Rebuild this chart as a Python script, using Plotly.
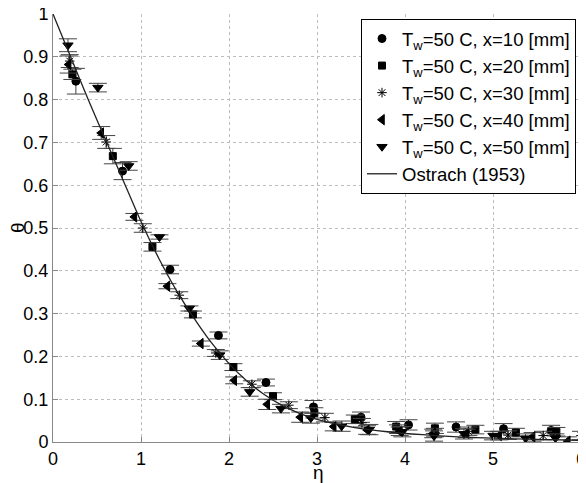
import plotly.graph_objects as go

# Ostrach (1953) similarity solution
eta_ostrach = [0, 0.2, 0.4, 0.6, 0.8, 1.0, 1.2, 1.4, 1.6, 1.8, 2.0, 2.2, 2.4, 2.6, 2.8,
               3.0, 3.4, 3.8, 4.2, 4.6, 5.0, 5.5, 6.0]
theta_ostrach = [1.0, 0.9, 0.80, 0.705, 0.61, 0.515, 0.43, 0.355, 0.29, 0.232, 0.183,
                 0.143, 0.111, 0.086, 0.067, 0.053, 0.035, 0.024, 0.017, 0.012, 0.009,
                 0.006, 0.004]

# x = 10 mm (circles)
eta_10 = [0.26, 0.79, 1.33, 1.88, 2.42, 2.96, 3.50, 4.04, 4.58, 5.12, 5.66]
theta_10 = [0.843, 0.633, 0.403, 0.249, 0.139, 0.082, 0.058, 0.040, 0.035, 0.031, 0.027]
err_10 = [0.03, 0.02, 0.01, 0.008, 0.008, 0.015, 0.012, 0.012, 0.012, 0.012, 0.012]

# x = 20 mm (squares)
eta_20 = [0.22, 0.68, 1.13, 1.59, 2.05, 2.50, 2.97, 3.43, 3.90, 4.34, 4.80, 5.26, 5.72]
theta_20 = [0.859, 0.668, 0.456, 0.298, 0.175, 0.107, 0.068, 0.053, 0.036, 0.032, 0.029,
            0.022, 0.024]
err_20 = [0.012, 0.018, 0.01, 0.008, 0.008, 0.008, 0.012, 0.01, 0.012, 0.012, 0.01, 0.01, 0.01]

# x = 30 mm (asterisks)
eta_30 = [0.19, 0.605, 1.02, 1.435, 1.85, 2.26, 2.68, 3.09, 3.51, 3.92, 4.34, 4.72, 5.17,
          5.57, 6.0]
theta_30 = [0.89, 0.701, 0.50, 0.343, 0.208, 0.135, 0.086, 0.057, 0.045, 0.030, 0.022,
            0.025, 0.016, 0.015, 0.015]
err_30 = [0.015, 0.015, 0.01, 0.008, 0.008, 0.008, 0.008, 0.01, 0.01, 0.01, 0.01, 0.01,
          0.01, 0.01, 0.01]

# x = 40 mm (left triangles)
eta_40 = [0.178, 0.548, 0.925, 1.30, 1.68, 2.06, 2.435, 2.81, 3.19, 3.57, 3.94, 4.32,
          4.70, 5.07, 5.45, 5.85]
theta_40 = [0.882, 0.722, 0.526, 0.364, 0.230, 0.144, 0.088, 0.058, 0.036, 0.028, 0.025,
            0.020, 0.020, 0.015, 0.012, 0.002]
err_40 = [0.02, 0.015, 0.008, 0.006, 0.006, 0.008, 0.012, 0.012, 0.01, 0.01, 0.01, 0.01,
          0.01, 0.01, 0.01, 0.01]

# x = 50 mm (down triangles)
eta_50 = [0.17, 0.51, 0.86, 1.21, 1.55, 1.895, 2.235, 2.59, 2.93, 3.28, 3.595, 3.97,
          4.33, 4.67, 5.0, 5.37, 5.71]
theta_50 = [0.927, 0.828, 0.645, 0.479, 0.312, 0.203, 0.117, 0.078, 0.056, 0.037, 0.029,
            0.024, 0.014, 0.019, 0.015, 0.009, 0.009]
err_50 = [0.015, 0.01, 0.01, 0.005, 0.006, 0.01, 0.01, 0.01, 0.012, 0.012, 0.012, 0.012,
          0.012, 0.012, 0.01, 0.01, 0.01]

xticks = [0, 1, 2, 3, 4, 5, 6]
yticks = [0, 0.1, 0.2, 0.3, 0.4, 0.5, 0.6, 0.7, 0.8, 0.9, 1]
ytick_text = ["0", "0.1", "0.2", "0.3", "0.4", "0.5", "0.6", "0.7", "0.8", "0.9", "1"]

FONT = "Liberation Sans, Arial, sans-serif"
series = [
    ("T<sub>w</sub>=50 C, x=10 [mm]", eta_10, theta_10, err_10, "circle", 8),
    ("T<sub>w</sub>=50 C, x=20 [mm]", eta_20, theta_20, err_20, "square", 7),
    ("T<sub>w</sub>=50 C, x=30 [mm]", eta_30, theta_30, err_30, "asterisk-open", 8),
    ("T<sub>w</sub>=50 C, x=40 [mm]", eta_40, theta_40, err_40, "triangle-left", 9),
    ("T<sub>w</sub>=50 C, x=50 [mm]", eta_50, theta_50, err_50, "triangle-down", 9),
]

fig = go.Figure()
for name, xs, ys, es, sym, sz in series:
    fig.add_trace(go.Scatter(
        x=xs, y=ys, mode="markers", name=name,
        marker=dict(symbol=sym, size=sz, color="black",
                    line=dict(color="black", width=1)),
        error_y=dict(type="data", array=es, visible=True, color="#444444",
                     thickness=1, width=9),
    ))

fig.add_trace(go.Scatter(
    x=eta_ostrach, y=theta_ostrach, mode="lines", name="Ostrach (1953)",
    line=dict(color="#222222", width=1.3, shape="spline", smoothing=0.6),
))

# page body has an 8px margin, so the figure is 8px smaller and margins shifted
fig.update_layout(
    width=578, height=475,
    margin=dict(l=45, r=5, t=6, b=41, autoexpand=False),
    paper_bgcolor="white", plot_bgcolor="white",
    font=dict(family=FONT, size=18, color="black"),
    showlegend=True,
    legend=dict(x=(361 - 53) / 528, y=(442 - 19) / 428, xanchor="left", yanchor="top",
                bgcolor="white", bordercolor="black", borderwidth=1,
                font=dict(family=FONT, size=18.5, color="black"),
                tracegroupgap=0, itemwidth=30),
    xaxis=dict(range=[0, 6], tickvals=xticks, ticktext=[str(v) for v in xticks],
               showgrid=True, gridcolor="#bdbdbd", griddash="dot", gridwidth=1,
               showline=True, linecolor="#888888", linewidth=1,
               ticks="inside", ticklen=5, tickcolor="#888888", automargin=False,
               zeroline=False, tickfont=dict(size=18), ticklabeloverflow="allow"),
    yaxis=dict(range=[0, 1], tickvals=yticks, ticktext=ytick_text,
               showgrid=True, gridcolor="#bdbdbd", griddash="dot", gridwidth=1,
               showline=True, linecolor="#888888", linewidth=1,
               ticks="inside", ticklen=5, tickcolor="#888888", automargin=False,
               zeroline=False, tickfont=dict(size=18), ticklabeloverflow="allow"),
    annotations=[
        dict(text="η", xref="paper", yref="paper", x=(318 - 53) / 528, y=-(460 - 442) / 428,
             xanchor="center", yanchor="top", showarrow=False,
             font=dict(family=FONT, size=19)),
        dict(text="θ", xref="paper", yref="paper", x=-(53 - 17) / 528, y=0.5,
             xanchor="center", yanchor="middle", showarrow=False, textangle=-90,
             font=dict(family=FONT, size=19)),
    ],
)

fig.write_html("out.html")
